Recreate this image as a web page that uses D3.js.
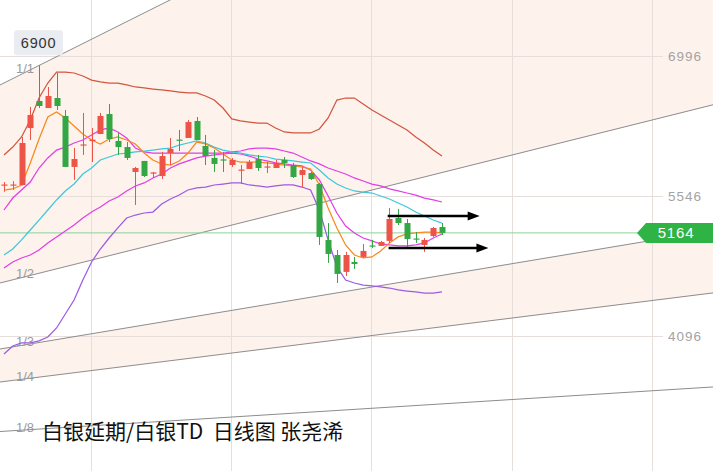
<!DOCTYPE html>
<html><head><meta charset="utf-8">
<script src="https://cdn.jsdelivr.net/npm/d3@7"></script>
<style>html,body{margin:0;padding:0;background:#fff;overflow:hidden}svg{display:block}</style>
</head><body>
<svg id="c" width="713" height="471"></svg>
<script>
// ---------- data ----------
const candleIdx = d3.range(51);
const opens  = [5655,5655,5660,6250,6530,6457,6561,6375,5847,6070,6115,6188,6395,6116,6053,5795,5909,5780,5753,5991,6130,6147,6323,6064,5940,5925,5867,5810,5826,5929,5842,5836,5919,5867,5764,5784,5670,5091,4935,4760,4863,4915,5034,5029,5081,5318,5266,5106,5039,5132,5225];
const highs  = [5690,5700,6157,6468,6900,6675,6820,6437,6043,6406,6250,6406,6499,6199,6105,5847,5909,5795,6002,6147,6230,6333,6364,6178,6022,6002,5940,5867,5919,5971,5898,5919,5950,5888,5847,5795,5681,5266,4987,4967,4915,5049,5091,5081,5422,5412,5308,5173,5112,5225,5266];
const lows   = [5590,5610,5655,6126,6457,6457,6437,5847,5712,5971,5898,6188,6105,5971,5919,5453,5743,5733,5722,5867,6012,6147,6126,5867,5795,5795,5847,5670,5826,5805,5784,5836,5836,5733,5639,5712,5039,4853,4645,4718,4791,4904,5008,5029,5060,5246,5018,5060,4967,5122,5142];
const closes = [5665,5665,6095,6385,6478,6582,6478,5847,5929,6080,6130,6375,6136,6053,5940,5836,5753,5790,5960,6033,6120,6312,6126,5960,5878,5915,5919,5820,5898,5836,5852,5888,5888,5743,5815,5722,5122,4946,4739,4935,4842,4977,5024,5070,5308,5266,5101,5096,5091,5215,5164];

const maShort   = [5608,5619,5660,5888,6136,6364,6416,6354,6271,6188,6126,6085,6136,6157,6126,6085,5991,5919,5878,5867,5909,5991,6105,6085,6043,5981,5919,5898,5898,5898,5888,5878,5867,5857,5847,5826,5660,5422,5215,5039,4935,4904,4915,4977,5060,5122,5153,5163,5173,5173,5163];
const maMid     = [4935,4997,5091,5194,5297,5401,5505,5598,5670,5774,5836,5919,5950,5981,5991,6002,6012,6022,6033,6043,6074,6095,6116,6095,6053,6022,6002,5991,5971,5960,5950,5929,5919,5909,5898,5888,5815,5733,5670,5629,5598,5587,5577,5546,5515,5473,5432,5380,5339,5297,5266];
const bandInUp  = [5401,5525,5608,5691,5836,5940,6022,6053,6095,6126,6178,6230,6250,6209,6147,6043,6002,5991,5991,5991,5991,5991,5991,5991,5991,5991,6002,6012,6033,6043,6043,6033,6012,5991,5950,5909,5878,5836,5805,5774,5733,5701,5670,5650,5619,5598,5577,5556,5525,5505,5484];
const bandInLow = [4800,4863,4904,4935,4987,5060,5122,5184,5246,5318,5380,5432,5494,5536,5598,5650,5681,5733,5774,5836,5878,5909,5940,5960,5971,5981,5991,5981,5960,5929,5909,5888,5878,5867,5857,5815,5712,5546,5370,5235,5163,5111,5081,5049,5039,5029,5029,5039,5060,5111,5153];
const bandOutUp = [5971,6053,6157,6333,6561,6716,6830,6830,6820,6789,6747,6727,6716,6716,6696,6675,6665,6654,6644,6634,6623,6613,6613,6582,6540,6457,6344,6323,6312,6302,6302,6250,6209,6199,6199,6199,6240,6354,6540,6561,6561,6499,6437,6385,6333,6281,6230,6157,6095,6022,5960];
const bandOutLow= [3910,3993,4025,4025,4045,4086,4179,4324,4469,4676,4863,4997,5111,5215,5318,5349,5370,5380,5463,5515,5556,5608,5629,5639,5660,5670,5681,5681,5660,5650,5639,5650,5660,5660,5639,5608,5401,5091,4811,4676,4645,4624,4614,4604,4593,4573,4562,4552,4541,4541,4552];

const priceTicks = [4096, 5546, 6996];
const timeGridIdx = [10, 26, 42, 58, 74];
const lastPrice = 5164;
const peakLabel = 6900;
const peakIdx = 4;

// Gann fan: origin (index, price) and the 1/1 vector
const fanOrigin = {i: -90.9, p: 2594};
const fanUnit = {di: 109.85, dp: 4982};
const fanLabels = ["1/1", "1/2", "1/3", "1/4", "1/8"];
const fanRatios = [1, 1/2, 1/3, 1/4, 1/8];
const fanBands = [[0, 1], [2, 3]];

// Channel arrows (start index, end index, price)
const arrows = [
  {i0: 43.8, i1: 54.3, p: 5339},
  {i0: 43.9, i1: 55.3, p: 5008}
];
const title = "白银延期/白银TD\u00A0\u00A0日线图\u00A0张尧浠";

// ---------- drawing ----------
const W = 713, H = 471;
const svg = d3.select("#c");
const x = d3.scaleLinear().domain([0, 50]).range([4, 442]);
const y = d3.scaleLinear().domain([4096, 6996]).range([336, 56]);

const fanY = (r, t) => y(fanOrigin.p + r * fanUnit.dp * (t - fanOrigin.i) / fanUnit.di);
const tL = x.invert(0), tR = x.invert(W);

// background bands
fanBands.forEach(([a, b]) => {
  const ra = fanRatios[a], rb = fanRatios[b];
  const pts = [[0, fanY(ra, tL)], [W, fanY(ra, tR)], [W, fanY(rb, tR)], [0, fanY(rb, tL)]];
  svg.append("path").attr("d", d3.line()(pts) + "Z").attr("fill", "#fdf2ec");
});

// grid + right axis labels
svg.append("g").selectAll("line").data(timeGridIdx).join("line")
  .attr("x1", d => x(d)).attr("x2", d => x(d)).attr("y1", 0).attr("y2", H)
  .attr("stroke", "#e6dedb").attr("stroke-width", 1).attr("shape-rendering", "crispEdges");

const axisX = 663;
const ax = svg.append("g").attr("transform", `translate(${axisX},0)`)
  .call(d3.axisRight(y).tickValues(priceTicks).tickSize(-axisX).tickPadding(5).tickFormat(d3.format("d")));
ax.select(".domain").remove();
ax.selectAll(".tick line").attr("stroke", "#e6dedb").attr("shape-rendering", "crispEdges");
ax.selectAll(".tick text").attr("fill", "#a3a3a3").attr("font-size", "13.5px")
  .attr("font-family", "'Liberation Sans', Arial, sans-serif").attr("letter-spacing", "1px");

// fan lines
fanRatios.forEach((r, k) => {
  svg.append("line").attr("x1", 0).attr("y1", fanY(r, tL)).attr("x2", W).attr("y2", fanY(r, tR))
    .attr("stroke", "#8c8c8c").attr("stroke-width", 1);
  const tx = x.invert(28);
  svg.append("text").attr("x", 16).attr("y", fanY(r, tx) + 2)
    .attr("fill", "#9a9a9a").attr("font-size", "13px")
    .attr("font-family", "'Liberation Sans', Arial, sans-serif").text(fanLabels[k]);
});

// last price line
svg.append("line").attr("x1", 0).attr("x2", 640).attr("y1", y(lastPrice)).attr("y2", y(lastPrice))
  .attr("stroke", "#8ed399").attr("stroke-width", 1);

// indicator lines
const lineGen = d3.line().x((d, i) => x(i)).y(d => y(d));
const series = [
  {v: bandOutUp, c: "#d2563f"},
  {v: bandOutLow, c: "#9d5ae3"},
  {v: bandInUp, c: "#e23ee6"},
  {v: bandInLow, c: "#e23ee6"},
  {v: maMid, c: "#3ec8d9"},
  {v: maShort, c: "#f78a1d"}
];
series.forEach(s => svg.append("path").attr("d", lineGen(s.v)).attr("fill", "none")
  .attr("stroke", s.c).attr("stroke-width", 1.25));

// candles
const up = "#ec5448", dn = "#34a745";
const cg = svg.append("g");
candleIdx.forEach(i => {
  const o = opens[i], c = closes[i], col = c >= o ? up : dn;
  const cx = Math.round(x(i)) + 0.5;
  cg.append("line").attr("x1", cx).attr("x2", cx).attr("y1", y(highs[i])).attr("y2", y(lows[i]))
    .attr("stroke", col).attr("stroke-width", 1);
  const top = y(Math.max(o, c)), bot = y(Math.min(o, c));
  cg.append("rect").attr("x", cx - 3).attr("width", 6).attr("y", top).attr("height", Math.max(1.2, bot - top))
    .attr("fill", col);
});

// arrows
arrows.forEach(a => {
  const x0 = x(a.i0), x1 = x(a.i1), yy = y(a.p);
  svg.append("line").attr("x1", x0).attr("x2", x1 - 10).attr("y1", yy).attr("y2", yy)
    .attr("stroke", "#000").attr("stroke-width", 2.6);
  svg.append("path").attr("d", `M${x1 - 12},${yy - 4.5}L${x1},${yy}L${x1 - 12},${yy + 4.5}Z`).attr("fill", "#000");
});

// peak label
const px = x(peakIdx), py = y(peakLabel);
svg.append("rect").attr("x", px - 25).attr("y", py - 35).attr("width", 49).attr("height", 25).attr("rx", 3)
  .attr("fill", "#e9ecf0");
svg.append("text").attr("x", px - 0.5).attr("y", py - 17).attr("text-anchor", "middle")
  .attr("fill", "#333").attr("font-size", "14.5px").attr("letter-spacing", "0.8px")
  .attr("font-family", "'Liberation Sans', Arial, sans-serif").text(peakLabel);

// last price tag
const ly = y(lastPrice);
svg.append("path").attr("d", `M637,${ly}L646,${ly - 10}L713,${ly - 10}L713,${ly + 10}L646,${ly + 10}Z`)
  .attr("fill", "#2fb344");
svg.append("text").attr("x", 676).attr("y", ly + 5.5).attr("text-anchor", "middle")
  .attr("fill", "#fff").attr("font-size", "15px").attr("letter-spacing", "0.8px")
  .attr("font-family", "'Liberation Sans', Arial, sans-serif").text(lastPrice);

// title
svg.append("text").attr("x", 42).attr("y", 439).attr("fill", "#111").attr("font-size", "21px")
  .attr("font-family", "'Noto Sans CJK SC', sans-serif").text(title);
</script>
</body></html>
